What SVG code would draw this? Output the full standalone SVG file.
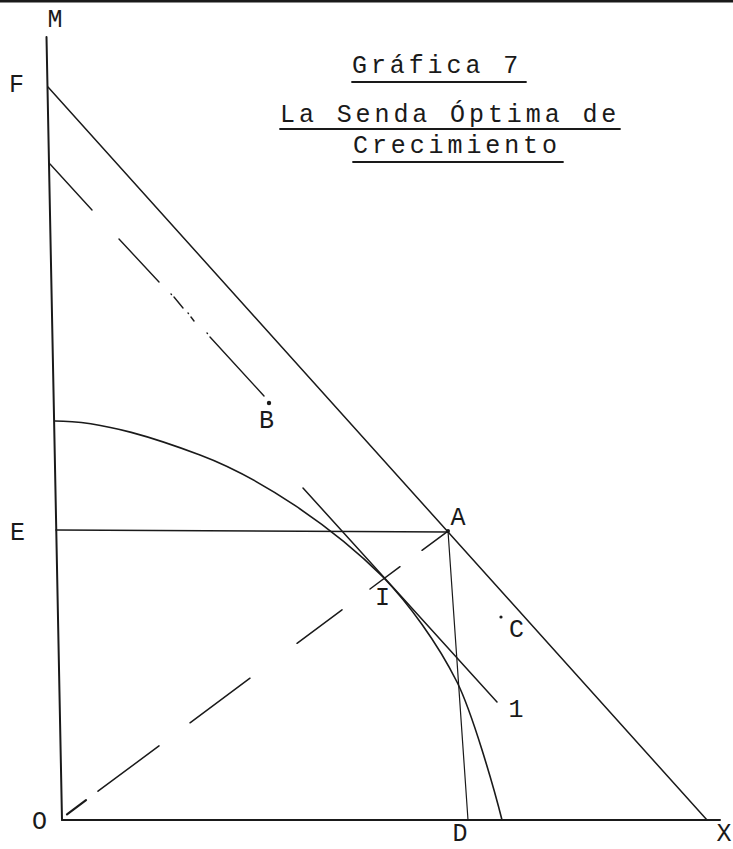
<svg xmlns="http://www.w3.org/2000/svg" width="733" height="849" viewBox="0 0 733 849">
<style>
.ln{stroke:#1a1a1a;fill:none;stroke-linecap:round}
.lbl{font-family:"Liberation Mono","Courier New",monospace;font-size:25px;fill:#1a1a1a;text-anchor:middle}
.ttl{font-family:"Liberation Mono","Courier New",monospace;font-size:25px;fill:#1a1a1a;letter-spacing:3.9px}
</style>
<rect width="733" height="849" fill="#ffffff"/>
<line class="ln" x1="0" y1="1.3" x2="733" y2="1.3" stroke-width="2.6" style="stroke-linecap:butt"/>
<g id="title">
<text class="ttl" x="352" y="73">Gráfica 7</text>
<line class="ln" x1="352" y1="82" x2="526" y2="82" stroke-width="1.8"/>
<text class="ttl" x="280" y="122">La Senda Óptima de</text>
<line class="ln" x1="280" y1="129" x2="620" y2="129" stroke-width="1.8"/>
<text class="ttl" x="353" y="153">Crecimiento</text>
<line class="ln" x1="353" y1="162" x2="563" y2="162" stroke-width="1.8"/>
</g>
<g id="axes">
<line class="ln" x1="46.5" y1="37" x2="62" y2="820" stroke-width="2"/>
<line class="ln" x1="62" y1="820" x2="720" y2="820" stroke-width="2"/>
</g>
<g id="lines">
<line class="ln" x1="48" y1="87" x2="707" y2="820" stroke-width="1.5"/>
<line class="ln" x1="56" y1="530" x2="448" y2="532" stroke-width="1.5"/>
<line class="ln" x1="303" y1="488" x2="497" y2="702" stroke-width="1.5"/>
<line class="ln" x1="448" y1="531" x2="468" y2="820" stroke-width="1.2"/>
<path class="ln" stroke-width="1.6" d="M55,421 C105,421 160,440 200,455 C260,477.5 333,527 383,577 C408,603 437,642 457,682 C472,712 494,788 502,820"/>
</g>
<g id="dashed-OA" class="ln" stroke-width="1.5">
<line x1="67" y1="814.3" x2="86" y2="800.2" stroke-width="2.2"/>
<line x1="98" y1="791.2" x2="159" y2="745.9"/>
<line x1="190" y1="722.8" x2="250" y2="678.2"/>
<line x1="297" y1="643.3" x2="342" y2="609.8"/>
<line x1="370" y1="589" x2="400" y2="566.7"/>
<line x1="422" y1="550.3" x2="447" y2="531.8"/>
</g>
<g id="dashdot-B" class="ln" stroke-width="1.4">
<line x1="50" y1="164" x2="92" y2="210"/>
<line x1="119" y1="239" x2="159" y2="282"/>
<line x1="171" y1="294" x2="171.5" y2="294.5"/>
<line x1="174" y1="297" x2="183" y2="308"/>
<line x1="188" y1="313" x2="188.5" y2="313.5"/>
<line x1="191" y1="317" x2="194" y2="321"/>
<line x1="207" y1="333" x2="207.5" y2="333.5"/>
<line x1="210" y1="337" x2="264" y2="396"/>
</g>
<g id="points" fill="#1a1a1a">
<circle cx="269" cy="403" r="2.2"/>
<circle cx="501" cy="617" r="1.6"/>
<circle cx="448" cy="531" r="2"/>
</g>
<g id="labels">
<text class="lbl" x="55" y="27">M</text>
<text class="lbl" x="16.5" y="92">F</text>
<text class="lbl" x="17.5" y="540">E</text>
<text class="lbl" x="39.5" y="829">O</text>
<text class="lbl" x="460" y="841">D</text>
<text class="lbl" x="724" y="841">X</text>
<text class="lbl" x="458" y="525">A</text>
<text class="lbl" x="266.5" y="428">B</text>
<text class="lbl" x="516.5" y="637">C</text>
<text class="lbl" x="382.5" y="605">I</text>
<text class="lbl" x="516" y="717">1</text>
</g>
</svg>
